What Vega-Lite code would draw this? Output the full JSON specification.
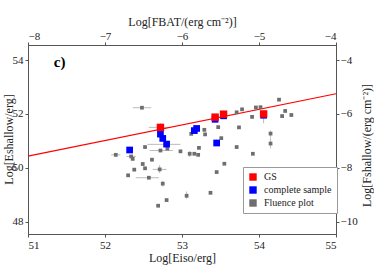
{
  "$schema": "https://vega.github.io/schema/vega-lite/v6.json",
  "width": 308,
  "height": 189,
  "autosize": {"type": "none"},
  "padding": {"left": 28, "top": 45, "right": 38, "bottom": 31},
  "background": "white",
  "config": {
    "font": "Liberation Serif",
    "view": {"stroke": "#555", "strokeWidth": 1},
    "axis": {
      "labelFont": "Liberation Serif",
      "titleFont": "Liberation Serif",
      "labelFontSize": 11,
      "titleFontSize": 12,
      "titleFontWeight": "normal",
      "grid": false,
      "domainColor": "#555",
      "tickColor": "#555",
      "labelColor": "#222",
      "titleColor": "#222",
      "tickSize": 3
    },
    "legend": {"labelFont": "Liberation Serif", "titleFont": "Liberation Serif"}
  },
  "datasets": {
    "points": [
      {"x": 52.48, "y": 52.23, "group": "Fluence plot"},
      {"x": 52.14, "y": 50.48, "group": "Fluence plot"},
      {"x": 52.34, "y": 50.42, "group": "Fluence plot"},
      {"x": 52.36, "y": 50.33, "group": "Fluence plot"},
      {"x": 52.52, "y": 50.77, "group": "Fluence plot"},
      {"x": 52.72, "y": 50.64, "group": "Fluence plot"},
      {"x": 52.81, "y": 50.71, "group": "Fluence plot"},
      {"x": 52.98, "y": 50.61, "group": "Fluence plot"},
      {"x": 52.61, "y": 50.30, "group": "Fluence plot"},
      {"x": 52.49, "y": 50.14, "group": "Fluence plot"},
      {"x": 52.52, "y": 49.98, "group": "Fluence plot"},
      {"x": 52.38, "y": 49.93, "group": "Fluence plot"},
      {"x": 52.71, "y": 49.94, "group": "Fluence plot"},
      {"x": 52.30, "y": 49.72, "group": "Fluence plot"},
      {"x": 52.57, "y": 49.63, "group": "Fluence plot"},
      {"x": 52.75, "y": 49.41, "group": "Fluence plot"},
      {"x": 53.06, "y": 48.96, "group": "Fluence plot"},
      {"x": 52.80, "y": 48.80, "group": "Fluence plot"},
      {"x": 52.69, "y": 48.59, "group": "Fluence plot"},
      {"x": 53.10, "y": 50.52, "group": "Fluence plot"},
      {"x": 53.16, "y": 50.52, "group": "Fluence plot"},
      {"x": 53.21, "y": 50.48, "group": "Fluence plot"},
      {"x": 53.12, "y": 51.26, "group": "Fluence plot"},
      {"x": 53.22, "y": 50.74, "group": "Fluence plot"},
      {"x": 53.29, "y": 51.41, "group": "Fluence plot"},
      {"x": 53.30, "y": 51.24, "group": "Fluence plot"},
      {"x": 53.47, "y": 51.51, "group": "Fluence plot"},
      {"x": 53.51, "y": 51.10, "group": "Fluence plot"},
      {"x": 53.71, "y": 50.77, "group": "Fluence plot"},
      {"x": 53.74, "y": 51.50, "group": "Fluence plot"},
      {"x": 53.71, "y": 52.06, "group": "Fluence plot"},
      {"x": 53.78, "y": 52.17, "group": "Fluence plot"},
      {"x": 53.96, "y": 52.24, "group": "Fluence plot"},
      {"x": 54.02, "y": 52.25, "group": "Fluence plot"},
      {"x": 53.91, "y": 51.89, "group": "Fluence plot"},
      {"x": 53.92, "y": 50.52, "group": "Fluence plot"},
      {"x": 53.55, "y": 50.15, "group": "Fluence plot"},
      {"x": 53.45, "y": 49.84, "group": "Fluence plot"},
      {"x": 53.37, "y": 49.07, "group": "Fluence plot"},
      {"x": 54.26, "y": 52.53, "group": "Fluence plot"},
      {"x": 54.34, "y": 52.11, "group": "Fluence plot"},
      {"x": 54.30, "y": 51.92, "group": "Fluence plot"},
      {"x": 54.42, "y": 51.96, "group": "Fluence plot"},
      {"x": 54.15, "y": 51.27, "group": "Fluence plot"},
      {"x": 54.15, "y": 50.90, "group": "Fluence plot"},
      {"x": 52.80, "y": 50.87, "group": "Fluence plot"},
      {"x": 52.72, "y": 51.25, "group": "complete sample"},
      {"x": 52.75, "y": 51.09, "group": "complete sample"},
      {"x": 52.80, "y": 50.88, "group": "complete sample"},
      {"x": 52.32, "y": 50.66, "group": "complete sample"},
      {"x": 53.19, "y": 51.46, "group": "complete sample"},
      {"x": 53.16, "y": 51.38, "group": "complete sample"},
      {"x": 53.45, "y": 50.92, "group": "complete sample"},
      {"x": 53.43, "y": 51.80, "group": "complete sample"},
      {"x": 53.54, "y": 51.93, "group": "complete sample"},
      {"x": 54.06, "y": 51.95, "group": "complete sample"},
      {"x": 52.72, "y": 51.50, "group": "GS"},
      {"x": 53.43, "y": 51.88, "group": "GS"},
      {"x": 53.54, "y": 51.99, "group": "GS"},
      {"x": 54.06, "y": 52.00, "group": "GS"}
    ],
    "xerr": [
      {"xlo": 52.36, "xhi": 52.60, "y": 52.23},
      {"xlo": 52.08, "xhi": 52.20, "y": 50.48},
      {"xlo": 52.58, "xhi": 52.88, "y": 50.64},
      {"xlo": 52.62, "xhi": 52.80, "y": 49.94},
      {"xlo": 52.40, "xhi": 52.70, "y": 49.63},
      {"xlo": 52.55, "xhi": 52.98, "y": 50.87},
      {"xlo": 52.57, "xhi": 52.84, "y": 51.50},
      {"xlo": 52.28, "xhi": 52.40, "y": 50.42}
    ],
    "yerr": [
      {"x": 52.72, "ylo": 51.38, "yhi": 51.65},
      {"x": 52.71, "ylo": 49.80, "yhi": 50.10},
      {"x": 52.75, "ylo": 49.30, "yhi": 49.52},
      {"x": 53.06, "ylo": 48.85, "yhi": 49.12},
      {"x": 53.10, "ylo": 50.40, "yhi": 50.62},
      {"x": 54.15, "ylo": 51.12, "yhi": 51.38},
      {"x": 54.15, "ylo": 50.72, "yhi": 51.10},
      {"x": 54.06, "ylo": 51.65, "yhi": 52.05},
      {"x": 53.45, "ylo": 50.82, "yhi": 51.05},
      {"x": 52.14, "ylo": 50.40, "yhi": 50.56}
    ],
    "fit": [
      {"x": 51, "y": 50.43},
      {"x": 55, "y": 52.75}
    ],
    "label": [
      {"x": 51.41, "y": 53.93, "text": "c)"}
    ],
    "secondary": [
      {"fx": -8, "fy": -10.46},
      {"fx": -4, "fy": -3.44}
    ]
  },
  "layer": [
    {
      "layer": [
        {
          "data": {"name": "xerr"},
          "mark": {"type": "rule", "color": "#bbbbbb", "strokeWidth": 1},
          "encoding": {
            "x": {"field": "xlo", "type": "quantitative", "scale": {"domain": [51, 55], "nice": false, "zero": false}},
            "x2": {"field": "xhi"},
            "y": {"field": "y", "type": "quantitative", "scale": {"domain": [47.54, 54.56], "nice": false, "zero": false}}
          }
        },
        {
          "data": {"name": "yerr"},
          "mark": {"type": "rule", "color": "#bbbbbb", "strokeWidth": 1},
          "encoding": {
            "x": {"field": "x", "type": "quantitative", "scale": {"domain": [51, 55], "nice": false, "zero": false}},
            "y": {"field": "ylo", "type": "quantitative", "scale": {"domain": [47.54, 54.56], "nice": false, "zero": false}},
            "y2": {"field": "yhi"}
          }
        },
        {
          "data": {"name": "fit"},
          "mark": {"type": "line", "color": "#ff0000", "strokeWidth": 1.2},
          "encoding": {
            "x": {"field": "x", "type": "quantitative", "scale": {"domain": [51, 55], "nice": false, "zero": false}},
            "y": {"field": "y", "type": "quantitative", "scale": {"domain": [47.54, 54.56], "nice": false, "zero": false}}
          }
        },
        {
          "data": {"name": "points"},
          "transform": [{"filter": "datum.group === 'Fluence plot'"}],
          "mark": {"type": "square", "size": 14, "opacity": 1},
          "encoding": {
            "x": {
              "field": "x", "type": "quantitative",
              "scale": {"domain": [51, 55], "nice": false, "zero": false},
              "axis": {"values": [51, 52, 53, 54, 55], "title": "Log[Eiso/erg]", "labelPadding": 2, "titlePadding": 2, "format": "d"}
            },
            "y": {
              "field": "y", "type": "quantitative",
              "scale": {"domain": [47.54, 54.56], "nice": false, "zero": false},
              "axis": {"values": [48, 50, 52, 54], "title": "Log[Eshallow/erg]", "labelPadding": 2, "titleX": -20, "titleY": 94, "titleAngle": 270, "titleBaseline": "middle", "titleAlign": "center", "format": "d"}
            },
            "color": {
              "field": "group", "type": "nominal",
              "scale": {"domain": ["GS", "complete sample", "Fluence plot"], "range": ["#ff0000", "#0000ff", "#6e6e6e"]},
              "legend": {
                "title": null,
                "orient": "none",
                "legendX": 215,
                "legendY": 122,
                "symbolType": "square",
                "symbolSize": 55,
                "symbolOpacity": 1,
                "labelFontSize": 10,
                "labelColor": "#222",
                "fillColor": "white",
                "strokeColor": "#999",
                "padding": 5,
                "rowPadding": 3,
                "labelOffset": 6
              }
            }
          }
        },
        {
          "data": {"name": "points"},
          "transform": [{"filter": "datum.group === 'complete sample'"}],
          "mark": {"type": "square", "size": 45, "opacity": 1},
          "encoding": {
            "x": {"field": "x", "type": "quantitative", "scale": {"domain": [51, 55], "nice": false, "zero": false}},
            "y": {"field": "y", "type": "quantitative", "scale": {"domain": [47.54, 54.56], "nice": false, "zero": false}},
            "color": {"field": "group", "type": "nominal", "scale": {"domain": ["GS", "complete sample", "Fluence plot"], "range": ["#ff0000", "#0000ff", "#6e6e6e"]}}
          }
        },
        {
          "data": {"name": "points"},
          "transform": [{"filter": "datum.group === 'GS'"}],
          "mark": {"type": "square", "size": 55, "opacity": 1},
          "encoding": {
            "x": {"field": "x", "type": "quantitative", "scale": {"domain": [51, 55], "nice": false, "zero": false}},
            "y": {"field": "y", "type": "quantitative", "scale": {"domain": [47.54, 54.56], "nice": false, "zero": false}},
            "color": {"field": "group", "type": "nominal", "scale": {"domain": ["GS", "complete sample", "Fluence plot"], "range": ["#ff0000", "#0000ff", "#6e6e6e"]}}
          }
        },
        {
          "data": {"name": "label"},
          "mark": {"type": "text", "fontSize": 15, "fontWeight": "bold", "font": "Liberation Serif", "color": "#000"},
          "encoding": {
            "x": {"field": "x", "type": "quantitative", "scale": {"domain": [51, 55], "nice": false, "zero": false}},
            "y": {"field": "y", "type": "quantitative", "scale": {"domain": [47.54, 54.56], "nice": false, "zero": false}},
            "text": {"field": "text"}
          }
        }
      ]
    },
    {
      "data": {"name": "secondary"},
      "mark": {"type": "point", "opacity": 0},
      "encoding": {
        "x": {
          "field": "fx", "type": "quantitative",
          "scale": {"domain": [-8, -4], "nice": false, "zero": false},
          "axis": {"orient": "top", "values": [-8, -7, -6, -5, -4], "title": "Log[FBAT/(erg cm⁻²)]", "labelPadding": 1, "titlePadding": 2, "format": "d"}
        },
        "y": {
          "field": "fy", "type": "quantitative",
          "scale": {"domain": [-10.46, -3.44], "nice": false, "zero": false},
          "axis": {"orient": "right", "values": [-10, -8, -6, -4], "title": "Log[Fshallow/(erg cm⁻²)]", "titleAngle": 270, "titleX": 30, "titleY": 100, "titleBaseline": "middle", "titleAlign": "center", "labelPadding": 1, "format": "d"}
        }
      }
    }
  ],
  "resolve": {"scale": {"x": "independent", "y": "independent"}}
}
